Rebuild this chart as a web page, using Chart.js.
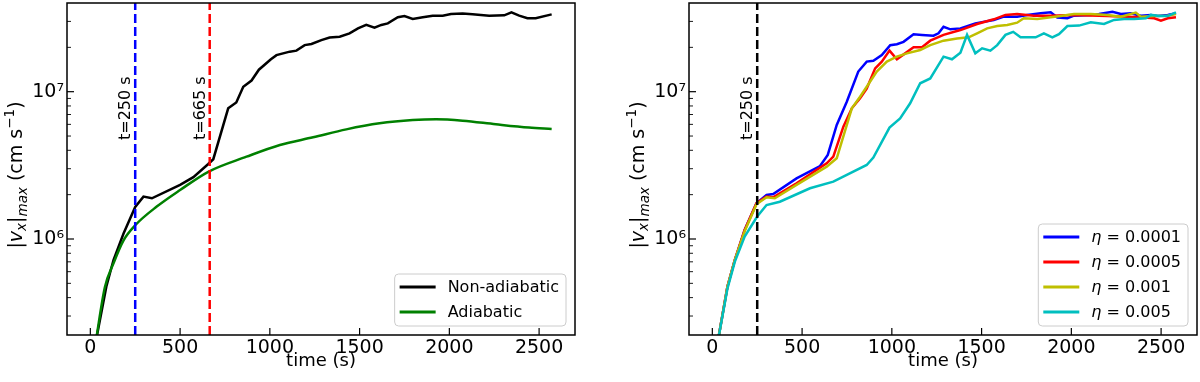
<!DOCTYPE html>
<html>
<head>
<meta charset="utf-8">
<script src="https://cdn.jsdelivr.net/npm/chart.js@4.4.0/dist/chart.umd.min.js"></script>
<style>
  html, body { margin: 0; padding: 0; background: #fff; }
  #wrap { position: relative; width: 1200px; height: 382px; }
  canvas { position: absolute; top: 0; }
  #left { left: 0; }
  #right { left: 600px; }
</style>
</head>
<body>
<div id="wrap">
  <canvas id="left" width="600" height="382"></canvas>
  <canvas id="right" width="600" height="382"></canvas>
</div>
<script>
// axes
const X_MIN = -130, X_MAX = 2700;
const Y_MIN = 2.23e5, Y_MAX = 4.0e7;
const xTicks = [0, 500, 1000, 1500, 2000, 2500];
const yTicks = [3e5, 4e5, 5e5, 6e5, 7e5, 8e5, 9e5, 1e6, 2e6, 3e6, 4e6, 5e6, 6e6, 7e6, 8e6, 9e6, 1e7, 2e7, 3e7];
const yMajor = [1e6, 1e7];

// left panel
const tNonAdiab = [30, 89, 129, 185, 250, 296, 343, 500, 574, 657, 685, 768, 813, 852, 898, 939, 1006, 1037, 1111, 1148,
  1194, 1232, 1287, 1333, 1389, 1444, 1491, 1537, 1583, 1621, 1657, 1713, 1750, 1796, 1852, 1907, 1963, 2009, 2074, 2129,
  2222, 2306, 2346, 2389, 2435, 2481, 2570];
const vNonAdiab = [2.0e5, 4.74e5, 7.2e5, 1.09e6, 1.65e6, 1.94e6, 1.89e6, 2.33e6, 2.63e6, 3.23e6, 3.48e6, 7.71e6, 8.45e6, 1.08e7, 1.19e7, 1.41e7, 1.66e7, 1.77e7, 1.87e7, 1.90e7,
  2.07e7, 2.11e7, 2.24e7, 2.33e7, 2.36e7, 2.49e7, 2.69e7, 2.84e7, 2.72e7, 2.84e7, 2.91e7, 3.20e7, 3.26e7, 3.12e7, 3.20e7, 3.28e7, 3.28e7, 3.37e7, 3.40e7, 3.35e7,
  3.28e7, 3.30e7, 3.46e7, 3.28e7, 3.15e7, 3.15e7, 3.35e7];
const tAdiab = [30, 81, 129, 185, 250, 370, 500, 657, 870, 1056, 1241, 1426, 1611, 1796, 1926, 2074, 2259, 2444, 2570];
const vAdiab = [2.0e5, 4.7e5, 6.84e5, 9.8e5, 1.24e6, 1.66e6, 2.15e6, 2.86e6, 3.62e6, 4.35e6, 4.90e6, 5.55e6, 6.10e6, 6.42e6, 6.50e6, 6.36e6, 6.01e6, 5.71e6, 5.58e6];

// right panel
const tEta1 = [30, 84, 125, 180, 246, 302, 339, 469, 600, 643, 693, 749, 813, 860, 897, 944, 991, 1028, 1065, 1121,
  1168, 1232, 1260, 1288, 1326, 1382, 1465, 1568, 1624, 1698, 1754, 1829, 1885, 1922, 1978, 2015, 2108, 2154, 2229, 2276,
  2331, 2387, 2443, 2481, 2537, 2583];
const vEta1 = [2.0e5, 4.74e5, 7.2e5, 1.15e6, 1.75e6, 1.99e6, 2.02e6, 2.58e6, 3.13e6, 3.72e6, 5.94e6, 8.55e6, 1.37e7, 1.60e7, 1.62e7, 1.77e7, 2.07e7, 2.10e7, 2.18e7, 2.45e7,
  2.43e7, 2.40e7, 2.49e7, 2.76e7, 2.65e7, 2.69e7, 2.91e7, 3.07e7, 3.23e7, 3.23e7, 3.32e7, 3.41e7, 3.46e7, 3.19e7, 3.15e7, 3.28e7, 3.32e7, 3.37e7, 3.49e7, 3.37e7,
  3.41e7, 3.28e7, 3.32e7, 3.26e7, 3.32e7, 3.41e7];
const tEta5 = [30, 84, 125, 180, 246, 302, 339, 469, 637, 674, 730, 777, 823, 860, 907, 944, 987, 1028, 1074, 1121,
  1168, 1214, 1288, 1382, 1475, 1568, 1633, 1698, 1791, 1885, 2015, 2201, 2387, 2462, 2499, 2537, 2583];
const vEta5 = [2.0e5, 4.74e5, 7.2e5, 1.15e6, 1.75e6, 1.94e6, 1.92e6, 2.39e6, 3.26e6, 3.62e6, 5.79e6, 7.71e6, 9.02e6, 1.05e7, 1.44e7, 1.60e7, 1.90e7, 1.66e7, 1.82e7, 2.00e7,
  2.00e7, 2.22e7, 2.43e7, 2.62e7, 2.88e7, 3.10e7, 3.32e7, 3.37e7, 3.28e7, 3.28e7, 3.32e7, 3.26e7, 3.20e7, 3.15e7, 3.03e7, 3.15e7, 3.20e7];
const tEta10 = [30, 84, 125, 180, 246, 302, 348, 469, 637, 693, 777, 823, 860, 916, 972, 1028, 1084, 1158, 1214, 1288,
  1363, 1428, 1475, 1531, 1587, 1643, 1698, 1735, 1810, 1885, 1940, 2015, 2108, 2201, 2276, 2359, 2387, 2462, 2537, 2583];
const vEta10 = [2.0e5, 4.74e5, 7.2e5, 1.13e6, 1.72e6, 1.92e6, 1.89e6, 2.33e6, 3.10e6, 3.53e6, 7.71e6, 9.25e6, 1.08e7, 1.37e7, 1.60e7, 1.73e7, 1.82e7, 1.92e7, 2.07e7, 2.22e7,
  2.30e7, 2.34e7, 2.49e7, 2.69e7, 2.79e7, 2.84e7, 2.94e7, 3.15e7, 3.12e7, 3.20e7, 3.26e7, 3.37e7, 3.37e7, 3.32e7, 3.23e7, 3.44e7, 3.23e7, 3.26e7, 3.28e7, 3.37e7];
const tEta50 = [30, 84, 125, 180, 250, 302, 376, 544, 674, 860, 897, 987, 1046, 1102, 1158, 1214, 1288, 1335, 1382, 1419,
  1465, 1503, 1549, 1587, 1633, 1676, 1717, 1801, 1847, 1894, 1931, 1978, 2043, 2108, 2182, 2238, 2294, 2350, 2415, 2443,
  2490, 2537, 2583];
const vEta50 = [2.0e5, 4.6e5, 7.0e5, 1.04e6, 1.42e6, 1.70e6, 1.79e6, 2.21e6, 2.45e6, 3.18e6, 3.57e6, 5.71e6, 6.59e6, 8.34e6, 1.14e7, 1.23e7, 1.73e7, 1.66e7, 1.84e7, 2.43e7,
  1.82e7, 1.97e7, 1.90e7, 2.07e7, 2.43e7, 2.55e7, 2.34e7, 2.34e7, 2.49e7, 2.34e7, 2.46e7, 2.79e7, 2.81e7, 2.96e7, 2.88e7, 3.07e7, 3.12e7, 3.12e7, 3.15e7, 3.32e7,
  3.26e7, 3.26e7, 3.46e7];

// vertical markers
const leftMarkers = [250, 665];
const leftMarkerLabels = ['t=250 s', 't=665 s'];
const rightMarkers = [250];
const rightMarkerLabels = ['t=250 s'];

const FONT = 'DejaVu Sans';

function pts(t, v) {
  return t.map((x, i) => ({ x: x, y: v[i] }));
}

function series(label, t, v, color, order, smooth) {
  return {
    label: label, data: pts(t, v), borderColor: color, backgroundColor: color,
    borderWidth: 2.5, pointRadius: 0, tension: smooth ? 0.4 : 0,
    cubicInterpolationMode: smooth ? 'monotone' : 'default', order: order, inLegend: true
  };
}

function marker(t, label, color) {
  return {
    label: label, data: [{ x: t, y: Y_MIN }, { x: t, y: Y_MAX }], borderColor: color,
    borderWidth: 2.5, borderDash: [9, 4], pointRadius: 0, order: 0, markerText: label
  };
}

function line(ctx, x1, y1, x2, y2, w) {
  ctx.lineWidth = w;
  ctx.beginPath();
  ctx.moveTo(x1, y1);
  ctx.lineTo(x2, y2);
  ctx.stroke();
}

function drawYTitle(ctx, x, yc) {
  const big = 19, small = 13.5;
  const parts = [
    { t: '|', f: big + 'px "' + FONT + '"', dy: 0 },
    { t: 'v', f: 'italic ' + big + 'px "' + FONT + '"', dy: 0 },
    { t: 'x', f: 'italic ' + small + 'px "' + FONT + '"', dy: 4 },
    { t: '|', f: big + 'px "' + FONT + '"', dy: 0 },
    { t: 'max', f: 'italic ' + small + 'px "' + FONT + '"', dy: 5 },
    { t: ' (cm s', f: big + 'px "' + FONT + '"', dy: 0 },
    { t: '\u22121', f: small + 'px "' + FONT + '"', dy: -8 },
    { t: ')', f: big + 'px "' + FONT + '"', dy: 0 }
  ];
  let total = 0;
  parts.forEach(p => { ctx.font = p.f; p.w = ctx.measureText(p.t).width; total += p.w; });
  ctx.save();
  ctx.translate(x, yc);
  ctx.rotate(-Math.PI / 2);
  ctx.fillStyle = '#000';
  ctx.textBaseline = 'alphabetic';
  ctx.textAlign = 'left';
  let cx = -total / 2;
  parts.forEach(p => { ctx.font = p.f; ctx.fillText(p.t, cx, p.dy); cx += p.w; });
  ctx.restore();
}

function drawLabel(ctx, text, x, y, size) {
  // eta in italic, rest upright
  if (text.charAt(0) === 'η') {
    ctx.font = 'italic ' + size + 'px "' + FONT + '"';
    ctx.fillText('η', x, y);
    x += ctx.measureText('η').width;
    text = text.slice(1);
  }
  ctx.font = size + 'px "' + FONT + '"';
  ctx.fillText(text, x, y);
}

function labelWidth(ctx, text, size) {
  let w = 0;
  if (text.charAt(0) === 'η') {
    ctx.font = 'italic ' + size + 'px "' + FONT + '"';
    w += ctx.measureText('η').width;
    text = text.slice(1);
  }
  ctx.font = size + 'px "' + FONT + '"';
  return w + ctx.measureText(text).width;
}

const decor = {
  id: 'decor',
  afterDatasetsDraw(chart) {
    const ctx = chart.ctx;
    const a = chart.chartArea;
    const xs = chart.scales.x, ys = chart.scales.y;
    ctx.save();
    ctx.strokeStyle = '#000';
    ctx.fillStyle = '#000';

    // marker texts
    chart.data.datasets.forEach(ds => {
      if (!ds.markerText) return;
      const px = xs.getPixelForValue(ds.data[0].x);
      ctx.save();
      ctx.translate(px - 5, 140);
      ctx.rotate(-Math.PI / 2);
      ctx.font = '16px "' + FONT + '"';
      ctx.textAlign = 'left';
      ctx.textBaseline = 'alphabetic';
      ctx.fillText(ds.markerText, 0, 0);
      ctx.restore();
    });

    // inward ticks
    xTicks.forEach(v => {
      const p = xs.getPixelForValue(v);
      line(ctx, p, a.bottom, p, a.bottom - 7, 1.2);
    });
    yTicks.forEach(v => {
      const p = ys.getPixelForValue(v);
      const major = yMajor.includes(v);
      line(ctx, a.left, p, a.left + (major ? 7 : 4), p, major ? 1.2 : 0.9);
    });

    // frame
    ctx.lineWidth = 1.5;
    ctx.strokeRect(a.left, a.top, a.right - a.left, a.bottom - a.top);

    // axis titles
    ctx.font = '18px "' + FONT + '"';
    ctx.textAlign = 'center';
    ctx.textBaseline = 'alphabetic';
    ctx.fillText('time (s)', (a.left + a.right) / 2, 366);
    drawYTitle(ctx, a.left - 45, 175);

    // legend
    const items = chart.data.datasets.filter(ds => ds.inLegend);
    const size = 16;
    let tw = 0;
    items.forEach(ds => { tw = Math.max(tw, labelWidth(ctx, ds.label, size)); });
    const bw = 5 + 36 + 12 + tw + 7;
    const bh = 13 + (items.length - 1) * 25 + 14;
    const bx = a.right - 9 - bw, by = a.bottom - 9 - bh;
    ctx.beginPath();
    ctx.roundRect(bx, by, bw, bh, 4);
    ctx.fillStyle = 'rgba(255,255,255,0.8)';
    ctx.fill();
    ctx.strokeStyle = '#cccccc';
    ctx.lineWidth = 1;
    ctx.stroke();
    ctx.textAlign = 'left';
    ctx.textBaseline = 'middle';
    items.forEach((ds, i) => {
      const yy = by + 13 + i * 25;
      ctx.strokeStyle = ds.borderColor;
      line(ctx, bx + 5, yy, bx + 41, yy, 3);
      ctx.fillStyle = '#000';
      drawLabel(ctx, ds.label, bx + 53, yy + 1, size);
    });
    ctx.restore();
  }
};

function makeChart(id, datasets, yWidth, padRight) {
  return new Chart(document.getElementById(id), {
    type: 'line',
    data: { datasets: datasets },
    options: {
      responsive: false,
      animation: false,
      layout: { padding: { left: 0, right: padRight, top: 3, bottom: 0 } },
      plugins: { legend: { display: false }, tooltip: { enabled: false } },
      scales: {
        x: {
          type: 'linear', min: X_MIN, max: X_MAX,
          grid: { display: false, drawTicks: false }, border: { display: false },
          afterBuildTicks: s => { s.ticks = xTicks.map(v => ({ value: v })); },
          afterFit: s => { s.height = 47; s.paddingLeft = 0; s.paddingRight = 0; },
          ticks: {
            autoSkip: false, maxRotation: 0, padding: 2, color: '#000',
            font: { family: FONT, size: 19 },
            callback: v => String(v)
          }
        },
        y: {
          type: 'logarithmic', min: Y_MIN, max: Y_MAX,
          grid: { display: false, drawTicks: false }, border: { display: false },
          afterBuildTicks: s => { s.ticks = yTicks.map(v => ({ value: v })); },
          afterFit: s => { s.width = yWidth; s.paddingTop = 0; s.paddingBottom = 0; },
          ticks: {
            autoSkip: false, padding: 3, color: '#000',
            font: { family: FONT, size: 19 },
            callback: v => (v === 1e6 ? '10\u2076' : v === 1e7 ? '10\u2077' : '')
          }
        }
      }
    },
    plugins: [decor]
  });
}

makeChart('left', [
  series('Non-adiabatic', tNonAdiab, vNonAdiab, '#000000', 2, false),
  series('Adiabatic', tAdiab, vAdiab, '#008000', 1, true),
  marker(leftMarkers[0], leftMarkerLabels[0], '#0000ff'),
  marker(leftMarkers[1], leftMarkerLabels[1], '#ff0000')
], 67, 25);

makeChart('right', [
  series('η = 0.0001', tEta1, vEta1, '#0000ff', 4, false),
  series('η = 0.0005', tEta5, vEta5, '#ff0000', 3, false),
  series('η = 0.001', tEta10, vEta10, '#bfbf00', 2, false),
  series('η = 0.005', tEta50, vEta50, '#00bfbf', 1, false),
  marker(rightMarkers[0], rightMarkerLabels[0], '#000000')
], 89, 3);
</script>
</body>
</html>
